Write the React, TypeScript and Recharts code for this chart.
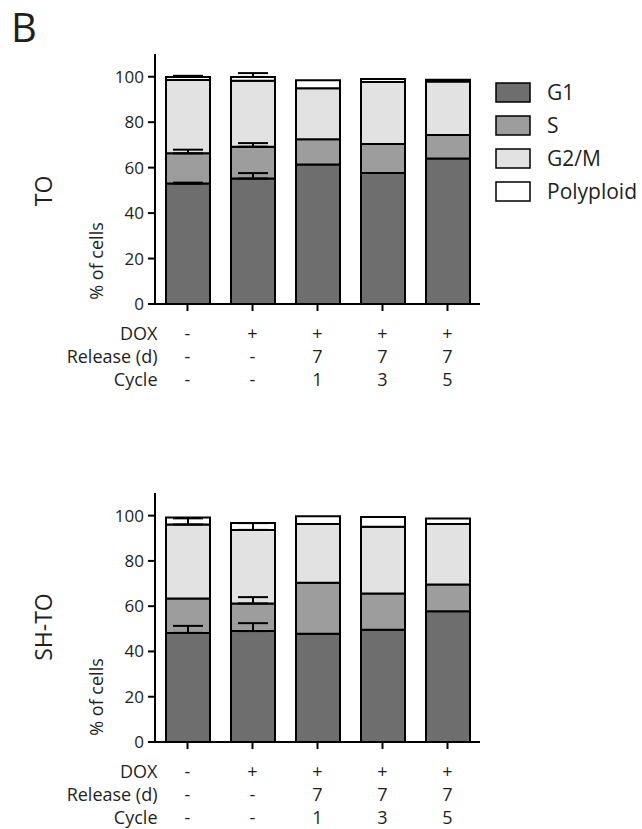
import React from 'react';
import { BarChart, Bar, XAxis, YAxis, ErrorBar } from 'recharts';

const categories = ['1', '2', '3', '4', '5'];
const rowLabels = ['DOX', 'Release (d)', 'Cycle'];
const doxRow = ['-', '+', '+', '+', '+'];
const releaseRow = ['-', '-', '7', '7', '7'];
const cycleRow = ['-', '-', '1', '3', '5'];
const yTicks = [0, 20, 40, 60, 80, 100];

const seriesNames = ['G1', 'S', 'G2/M', 'Polyploid'];
const seriesKeys = ['g1', 's', 'g2m', 'poly'];
const seriesColors = ['#6e6e6e', '#9d9d9d', '#e2e2e2', '#ffffff'];

// TO
const toG1 = [53, 55.2, 61.4, 57.6, 64];
const toS = [13.3, 14, 11.1, 12.8, 10.4];
const toG2M = [32.3, 29, 22.4, 27.3, 23.5];
const toPoly = [1.3, 1.7, 3.6, 1.3, 0.8];
const toG1Err = [0.4, 2.4, null, null, null];
const toSErr = [1.6, 1.6, null, null, null];
const toG2MErr = [null, null, null, null, null];
const toPolyErr = [0.5, 1.7, null, null, null];

// SH-TO
const shG1 = [48.2, 49, 47.8, 49.6, 57.8];
const shS = [15.2, 12.2, 22.6, 16, 11.8];
const shG2M = [32.7, 32.5, 25.9, 29.5, 26.7];
const shPoly = [3.1, 3.0, 3.4, 4.3, 2.4];
const shG1Err = [3.1, 3.5, null, null, null];
const shSErr = [null, 2.8, null, null, null];
const shG2MErr = [2.7, 3.0, null, null, null];
const shPolyErr = [null, null, null, null, null];

const up = (v: number | null) => (v == null ? null : [0, v]);

function build(g1: number[], s: number[], g2m: number[], poly: number[], e1: any[], e2: any[], e3: any[], e4: any[]) {
  return categories.map((c, i) => ({
    cat: c,
    g1: g1[i], s: s[i], g2m: g2m[i], poly: poly[i],
    g1Err: up(e1[i]), sErr: up(e2[i]), g2mErr: up(e3[i]), polyErr: up(e4[i]),
  }));
}

const toData = build(toG1, toS, toG2M, toPoly, toG1Err, toSErr, toG2MErr, toPolyErr);
const shData = build(shG1, shS, shG2M, shPoly, shG1Err, shSErr, shG2MErr, shPolyErr);

const FONT = '"Open Sans", sans-serif';
const INK = '#231f20';

const TableTick = (props: any) => {
  const { x, y, payload } = props;
  const i = payload.index;
  const rows = [doxRow, releaseRow, cycleRow];
  const offs = [29, 52, 75];
  return (
    <g>
      {rows.map((r, k) => (
        <text key={k} x={x} y={y + offs[k]} textAnchor="middle" fontSize={18} fill={INK} fontFamily={FONT}>
          {r[i]}
        </text>
      ))}
      {i === 0 &&
        rowLabels.map((l, k) => (
          <text key={'l' + k} x={x - 30} y={y + offs[k]} textAnchor="end" fontSize={18} fill={INK} fontFamily={FONT}>
            {l}
          </text>
        ))}
    </g>
  );
};

function Chart({ data, height, top, bottom, xh }: { data: any[]; height: number; top: number; bottom: number; xh: number }) {
  return (
    <BarChart
      width={642}
      height={height}
      data={data}
      margin={{ top, right: 162, left: 95, bottom }}
      barSize={44}
    >
      <XAxis
        dataKey="cat"
        height={xh}
        tick={<TableTick />}
        tickSize={7}
        tickMargin={0}
        interval={0}
        axisLine={{ stroke: '#000', strokeWidth: 2 }}
        tickLine={{ stroke: '#000', strokeWidth: 2 }}
      />
      <YAxis
        domain={[0, 110]}
        ticks={yTicks}
        width={60}
        tickSize={7}
        tickMargin={4}
        interval={0}
        allowDataOverflow
        axisLine={{ stroke: '#000', strokeWidth: 2 }}
        tickLine={{ stroke: '#000', strokeWidth: 2 }}
        tick={{ fontSize: 17, fill: INK, fontFamily: FONT }}
      />
      {seriesKeys.map((k, i) => (
        <Bar key={k} dataKey={k} name={seriesNames[i]} stackId="a" fill={seriesColors[i]} stroke="#000" strokeWidth={2} isAnimationActive={false}>
          <ErrorBar dataKey={k + 'Err'} direction="y" width={15} stroke="#000" strokeWidth={2} />
        </Bar>
      ))}
    </BarChart>
  );
}

export default function App() {
  return (
    <div style={{ position: 'absolute', left: 0, top: 0, width: 642, height: 829, background: '#fff', fontFamily: FONT }}>
      <div style={{ position: 'absolute', left: 0, top: 0 }}>
        <Chart data={toData} height={420} top={54} bottom={6} xh={110} />
      </div>
      <div style={{ position: 'absolute', left: 0, top: 420 }}>
        <Chart data={shData} height={409} top={73} bottom={7} xh={80} />
      </div>
      <svg width={642} height={829} style={{ position: 'absolute', left: 0, top: 0, pointerEvents: 'none' }}>
        <text x={11} y={42} fontSize={40} fill={INK} fontFamily={FONT}>B</text>
        <text transform="translate(52,191) rotate(-90)" textAnchor="middle" fontSize={23} fill={INK} fontFamily={FONT}>TO</text>
        <text transform="translate(52,627) rotate(-90)" textAnchor="middle" fontSize={23} fill={INK} fontFamily={FONT}>SH-TO</text>
        <text transform="translate(103,261) rotate(-90)" textAnchor="middle" fontSize={18} fill={INK} fontFamily={FONT}>% of cells</text>
        <text transform="translate(103,697) rotate(-90)" textAnchor="middle" fontSize={18} fill={INK} fontFamily={FONT}>% of cells</text>
        {seriesNames.map((n, i) => (
          <g key={n}>
            <rect x={496} y={83 + i * 33} width={34} height={19} fill={seriesColors[i]} stroke="#000" strokeWidth={1.5} />
            <text x={547} y={100 + i * 33} fontSize={21} fill={INK} fontFamily={FONT}>{n}</text>
          </g>
        ))}
      </svg>
    </div>
  );
}
